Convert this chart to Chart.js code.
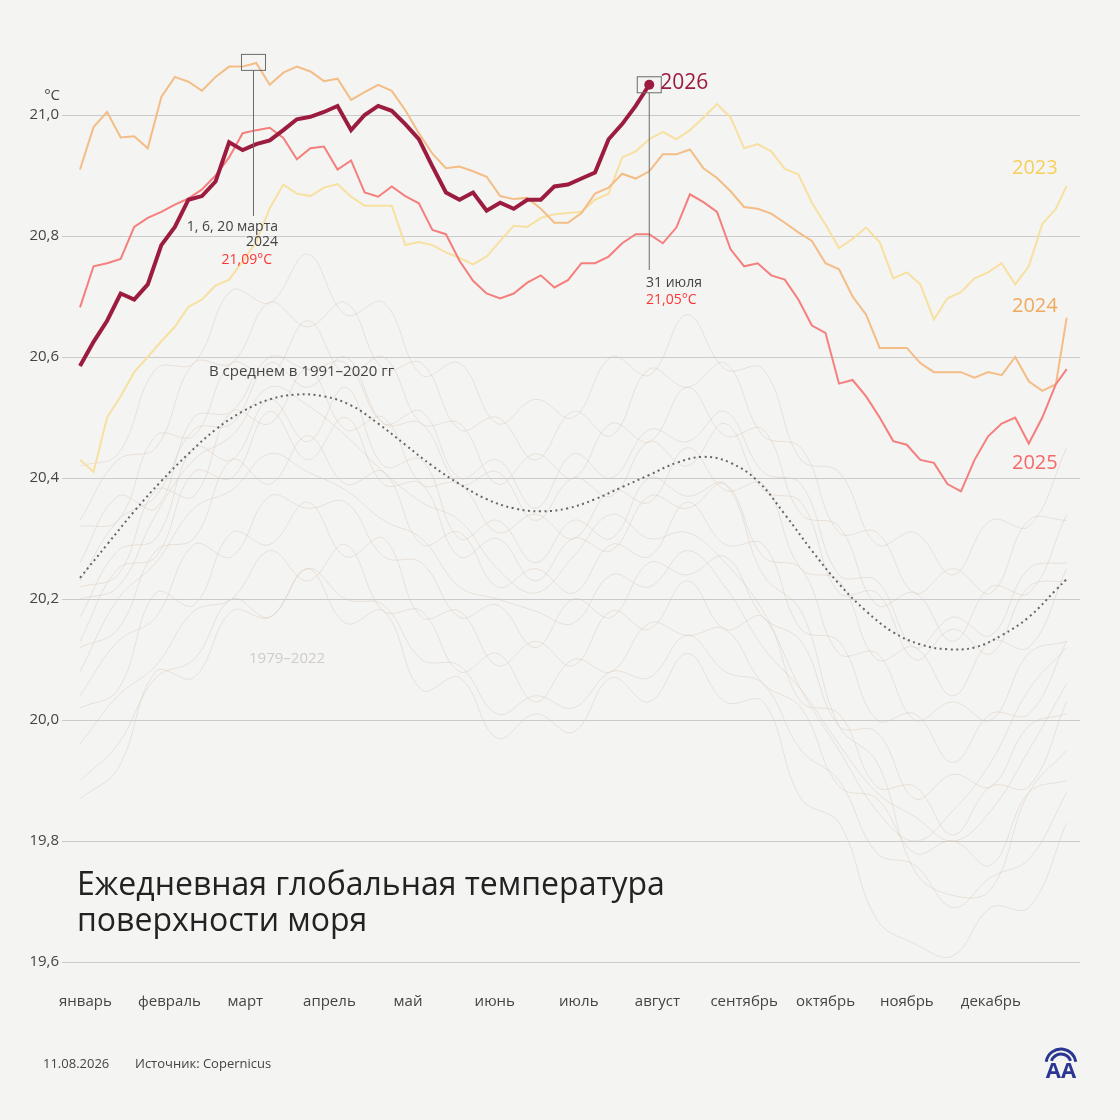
<!DOCTYPE html>
<html lang="ru">
<head>
<meta charset="utf-8">
<title>Ежедневная глобальная температура поверхности моря</title>
<script src="https://cdn.jsdelivr.net/npm/chart.js@4.4.1/dist/chart.umd.min.js"></script>
<style>
  html, body { margin: 0; padding: 0; background: #f4f4f3; }
  #wrap { position: relative; width: 1120px; height: 1120px; }
  canvas { display: block; }
</style>
</head>
<body>
<div id="wrap"><canvas id="sst" width="1120" height="1120"></canvas></div>
<script>
// day of year (0 = 1 January), sampled every 5 days
const DAYS = [0,5,10,15,20,25,30,35,40,45,50,55,60,65,70,75,80,85,90,95,
  100,105,110,115,120,125,130,135,140,145,150,155,160,165,170,175,180,185,190,195,
  200,205,210,215,220,225,230,235,240,245,250,255,260,265,270,275,280,285,290,295,
  300,305,310,315,320,325,330,335,340,345,350,355,360,364]

const SST_2023 = [20.43,20.41,20.50,20.535,20.575,20.60,20.626,20.65,20.683,20.695,
  20.718,20.728,20.758,20.79,20.846,20.885,20.87,20.866,20.88,20.886,
  20.865,20.85,20.85,20.85,20.785,20.79,20.785,20.773,20.764,20.753,
  20.766,20.792,20.817,20.815,20.83,20.836,20.838,20.84,20.86,20.87,
  20.93,20.94,20.96,20.972,20.96,20.975,20.996,21.018,20.996,20.945,
  20.952,20.94,20.911,20.902,20.855,20.819,20.78,20.795,20.814,20.79,
  20.73,20.74,20.72,20.662,20.697,20.707,20.73,20.74,20.755,20.72,
  20.75,20.82,20.845,20.883]

const SST_2024 = [20.91,20.98,21.005,20.963,20.965,20.945,21.03,21.063,21.055,21.04,
  21.063,21.08,21.08,21.086,21.05,21.07,21.08,21.072,21.056,21.06,
  21.025,21.038,21.05,21.04,21.008,20.97,20.936,20.912,20.915,20.907,
  20.898,20.866,20.861,20.863,20.845,20.822,20.822,20.838,20.87,20.88,
  20.903,20.895,20.907,20.935,20.935,20.943,20.912,20.896,20.874,20.848,
  20.845,20.837,20.822,20.806,20.792,20.755,20.745,20.70,20.67,20.615,
  20.615,20.615,20.59,20.575,20.575,20.575,20.566,20.575,20.57,20.60,
  20.56,20.544,20.555,20.665]

const SST_2025 = [20.682,20.75,20.755,20.762,20.815,20.83,20.84,20.852,20.862,20.877,
  20.90,20.93,20.97,20.975,20.979,20.962,20.927,20.945,20.948,20.91,
  20.925,20.872,20.865,20.882,20.866,20.854,20.81,20.803,20.759,20.726,
  20.705,20.697,20.705,20.723,20.735,20.715,20.727,20.755,20.755,20.766,
  20.788,20.803,20.803,20.788,20.814,20.869,20.856,20.84,20.778,20.75,
  20.755,20.735,20.728,20.695,20.652,20.64,20.556,20.562,20.535,20.50,
  20.461,20.455,20.43,20.425,20.39,20.378,20.43,20.469,20.49,20.50,
  20.457,20.50,20.555,20.58]

// 2026 runs up to 31 July
const SST_2026 = [20.585,20.625,20.66,20.705,20.695,20.72,20.785,20.815,20.86,20.866,
  20.89,20.955,20.942,20.952,20.958,20.975,20.993,20.997,21.005,21.015,
  20.975,21.0,21.015,21.007,20.985,20.96,20.915,20.872,20.86,20.872,
  20.842,20.855,20.845,20.86,20.86,20.882,20.885,20.895,20.905,20.96,
  20.985,21.015,21.05]

// 1991-2020 average
const AVG_DAYS = [0,10,20,30,40,50,60,70,80,90,100,110,120,130,140,150,160,170,180,190,
  200,210,220,230,240,250,260,270,280,290,300,310,320,330,340,350,360,364]
const SST_AVG = [20.235,20.29,20.345,20.395,20.44,20.48,20.51,20.53,20.538,20.535,
  20.52,20.49,20.455,20.42,20.39,20.365,20.35,20.345,20.35,20.365,
  20.385,20.405,20.425,20.435,20.425,20.395,20.34,20.28,20.225,20.18,
  20.145,20.125,20.117,20.12,20.14,20.17,20.215,20.233]

// faint 1979-2022 years, sampled every 14 days
const BG_DAYS = [0,14,28,42,56,70,84,98,112,126,140,154,168,182,196,210,224,238,252,266,280,294,308,322,336,350,364]
const BG_YEARS = [
  [19.90,19.96,20.07,20.10,20.20,20.17,20.25,20.20,20.19,20.10,20.09,20.01,20.04,20.02,20.08,20.07,20.14,20.08,20.06,19.95,19.90,19.78,19.76,19.69,19.74,19.77,19.88],
  [19.96,20.04,20.09,20.18,20.20,20.28,20.23,20.29,20.18,20.18,20.08,20.11,20.03,20.10,20.08,20.16,20.14,20.15,20.06,20.02,19.89,19.87,19.78,19.80,19.76,19.88,19.90],
  [20.04,20.13,20.17,20.29,20.27,20.37,20.35,20.36,20.27,20.26,20.17,20.19,20.12,20.20,20.17,20.26,20.24,20.27,20.17,20.13,19.99,19.98,19.87,19.91,19.89,19.99,20.01],
  [20.12,20.15,20.28,20.30,20.43,20.39,20.47,20.39,20.41,20.29,20.31,20.22,20.25,20.21,20.29,20.27,20.36,20.29,20.29,20.15,20.13,20.00,20.01,19.93,20.01,20.01,20.13],
  [20.13,20.25,20.27,20.41,20.40,20.51,20.43,20.50,20.39,20.39,20.27,20.30,20.23,20.30,20.28,20.37,20.35,20.39,20.27,20.25,20.11,20.11,20.00,20.03,20.00,20.11,20.13],
  [20.22,20.24,20.38,20.37,20.51,20.49,20.58,20.48,20.50,20.39,20.39,20.31,20.34,20.30,20.38,20.36,20.45,20.38,20.39,20.25,20.23,20.10,20.12,20.04,20.13,20.12,20.25],
  [20.23,20.33,20.37,20.48,20.49,20.59,20.55,20.60,20.49,20.49,20.39,20.41,20.33,20.40,20.37,20.46,20.42,20.49,20.38,20.36,20.21,20.21,20.10,20.15,20.11,20.22,20.23],
  [20.32,20.33,20.47,20.47,20.59,20.57,20.66,20.57,20.60,20.49,20.49,20.39,20.44,20.40,20.49,20.46,20.55,20.47,20.48,20.34,20.32,20.19,20.21,20.13,20.22,20.21,20.34],
  [20.33,20.43,20.45,20.59,20.59,20.69,20.65,20.69,20.58,20.59,20.48,20.50,20.43,20.51,20.47,20.58,20.55,20.59,20.47,20.45,20.31,20.31,20.21,20.25,20.21,20.33,20.33],
  [20.42,20.44,20.58,20.59,20.71,20.69,20.77,20.67,20.69,20.57,20.59,20.49,20.53,20.50,20.60,20.57,20.67,20.58,20.58,20.43,20.41,20.29,20.31,20.24,20.33,20.32,20.45],
  [20.17,20.28,20.30,20.45,20.43,20.53,20.46,20.55,20.42,20.43,20.30,20.33,20.26,20.33,20.30,20.40,20.37,20.39,20.24,20.18,19.99,19.93,19.75,19.71,19.72,19.88,19.95],
  [19.87,19.92,20.08,20.07,20.18,20.17,20.25,20.16,20.18,20.05,20.07,19.97,20.01,19.98,20.07,20.03,20.11,20.03,20.03,19.87,19.83,19.67,19.63,19.61,19.69,19.69,19.83],
  [20.26,20.37,20.35,20.50,20.51,20.60,20.58,20.59,20.49,20.51,20.40,20.43,20.35,20.44,20.40,20.48,20.46,20.51,20.41,20.39,20.24,20.23,20.12,20.17,20.14,20.25,20.26],
  [20.02,20.05,20.21,20.19,20.31,20.29,20.36,20.27,20.30,20.17,20.18,20.09,20.13,20.09,20.18,20.15,20.23,20.15,20.17,20.03,20.01,19.89,19.89,19.81,19.89,19.89,20.03],
  [20.20,20.22,20.34,20.43,20.47,20.55,20.52,20.47,20.41,20.36,20.33,20.25,20.21,20.27,20.34,20.30,20.31,20.26,20.18,20.05,19.95,19.85,19.80,19.85,19.93,20.05,20.12],
  [20.08,20.20,20.26,20.35,20.38,20.44,20.41,20.38,20.33,20.30,20.22,20.20,20.18,20.16,20.24,20.22,20.28,20.22,20.12,20.05,19.96,19.88,19.84,19.80,19.85,19.95,20.06]
]

const Y_TICKS = [19.6,19.8,20.0,20.2,20.4,20.6,20.8,21.0]
const MONTH_TICKS = [2,33,61,92,121,153,184,213,245,275,305,336]
const MONTHS = ['январь','февраль','март','апрель','май','июнь','июль','август','сентябрь','октябрь','ноябрь','декабрь']

const FONT = '"Open Sans", "Noto Sans", sans-serif'
const toPoints = (days, vals) => vals.map((v, i) => ({x: days[i], y: v}))

const datasets = []
datasets.push({
  label: '2026', data: toPoints(DAYS, SST_2026), order: 0,
  borderColor: '#9b1c3f', borderWidth: 4, tension: 0,
  pointRadius: c => c.dataIndex === SST_2026.length - 1 ? 5 : 0,
  pointBackgroundColor: '#9b1c3f', pointBorderWidth: 0
})
datasets.push({label: '2025', data: toPoints(DAYS, SST_2025), order: 1, borderColor: '#f47f7d', borderWidth: 2, tension: 0, pointRadius: 0})
datasets.push({label: '2024', data: toPoints(DAYS, SST_2024), order: 2, borderColor: '#f4bd86', borderWidth: 2, tension: 0, pointRadius: 0})
datasets.push({label: '2023', data: toPoints(DAYS, SST_2023), order: 3, borderColor: '#f8e0a0', borderWidth: 2, tension: 0, pointRadius: 0})
datasets.push({
  label: 'В среднем в 1991–2020 гг', data: toPoints(AVG_DAYS, SST_AVG), order: 4,
  borderColor: '#666', borderWidth: 2, borderDash: [2, 3.5], tension: 0.4, pointRadius: 0
})
BG_YEARS.forEach((vals, i) => {
  datasets.push({label: 'bg' + i, data: toPoints(BG_DAYS, vals), order: 10,
    borderColor: 'rgba(215,198,178,0.42)', borderWidth: 1, tension: 0.4, pointRadius: 0})
})

const text = (ctx, s, x, y, size, color, align) => {
  ctx.font = size + 'px ' + FONT
  ctx.fillStyle = color
  ctx.textAlign = align || 'left'
  ctx.textBaseline = 'middle'
  ctx.fillText(s, x, y)
}

const notes = {
  id: 'notes',
  beforeDraw(chart) {
    const ctx = chart.ctx
    ctx.save()
    ctx.fillStyle = '#f4f4f3'
    ctx.fillRect(0, 0, chart.width, chart.height)
    ctx.restore()
  },
  afterDraw(chart) {
    const {ctx, scales: {x, y}} = chart
    ctx.save()
    ctx.strokeStyle = '#6b6b6b'
    ctx.lineWidth = 1

    // 2024 record box
    const p1x = x.getPixelForValue(64), p1y = y.getPixelForValue(21.087)
    ctx.strokeRect(p1x - 12, p1y - 8, 24, 16)
    ctx.beginPath(); ctx.moveTo(p1x, p1y + 8); ctx.lineTo(p1x, 216); ctx.stroke()

    // 2026 latest box
    const last = SST_2026.length - 1
    const p2x = x.getPixelForValue(DAYS[last]), p2y = y.getPixelForValue(SST_2026[last])
    ctx.strokeRect(p2x - 12, p2y - 8, 24, 16)
    ctx.beginPath(); ctx.moveTo(p2x, p2y + 8); ctx.lineTo(p2x, 270); ctx.stroke()

    text(ctx, '1, 6, 20 марта', 278, 227, 14, '#444', 'right')
    text(ctx, '2024', 278, 242, 14, '#444', 'right')
    text(ctx, '21,09°C', 272, 260, 14, '#ff3535', 'right')
    text(ctx, '31 июля', 646, 283, 14, '#444')
    text(ctx, '21,05°C', 646, 300, 14, '#ff3535')

    text(ctx, '2026', p2x + 11, 83, 21, '#9b1c3f')
    text(ctx, '2023', 1012, 168, 20, '#f6cf5c')
    text(ctx, '2024', 1012, 306, 20, '#f1a95b')
    text(ctx, '2025', 1012, 463, 20, '#f46a6a')

    text(ctx, 'В среднем в 1991–2020 гг', 209, 372, 15, '#444')
    text(ctx, '1979–2022', 249, 659, 15, '#d0ccc8')
    text(ctx, '°C', 60, 96, 15, '#444', 'right')

    // title
    ctx.font = '32px ' + FONT
    ctx.fillStyle = '#222'
    ctx.textAlign = 'left'
    ctx.textBaseline = 'alphabetic'
    ctx.fillText('Ежедневная глобальная температура', 77, 895)
    ctx.fillText('поверхности моря', 77, 931)

    // footer
    text(ctx, '11.08.2026', 43, 1064, 13, '#444')
    text(ctx, 'Источник: Copernicus', 135, 1064, 13, '#444')

    // AA logo
    ctx.strokeStyle = '#2b3592'
    ctx.lineWidth = 3
    ctx.beginPath(); ctx.arc(1061, 1064, 15, Math.PI * 1.05, Math.PI * 1.95); ctx.stroke()
    ctx.beginPath(); ctx.arc(1061, 1064, 10, Math.PI * 1.1, Math.PI * 1.9); ctx.stroke()
    ctx.font = 'bold 22px ' + FONT
    ctx.fillStyle = '#2b3592'
    ctx.textAlign = 'center'
    ctx.textBaseline = 'alphabetic'
    ctx.fillText('AA', 1061, 1078)
    ctx.restore()
  }
}

function draw() {
  new Chart(document.getElementById('sst'), {
    type: 'line',
    data: {datasets},
    options: {
      responsive: false,
      animation: false,
      devicePixelRatio: 1,
      layout: {padding: {left: 0, right: 40, top: 42, bottom: 0}},
      plugins: {legend: {display: false}, tooltip: {enabled: false}},
      scales: {
        x: {
          type: 'linear', min: -6.64, max: 368.9,
          grid: {display: false}, border: {display: false},
          afterBuildTicks: axis => { axis.ticks = MONTH_TICKS.map(v => ({value: v})) },
          afterFit: scale => { scale.height = 158 },
          ticks: {
            autoSkip: false, maxRotation: 0, padding: 23,
            color: '#444', font: {family: FONT, size: 15},
            callback: (v, i) => MONTHS[i]
          }
        },
        y: {
          min: 19.6, max: 21.1207,
          border: {display: false},
          grid: {color: '#cbcbcb', lineWidth: 1, drawTicks: false},
          afterBuildTicks: axis => { axis.ticks = Y_TICKS.map(v => ({value: v})) },
          afterFit: scale => { scale.width = 62 },
          ticks: {
            padding: 3, color: '#444', font: {family: FONT, size: 15},
            callback: v => v.toFixed(1).replace('.', ',')
          }
        }
      }
    },
    plugins: [notes]
  })
}

if (document.fonts && document.fonts.load) {
  Promise.all([document.fonts.load('15px "Open Sans"'), document.fonts.load('bold 22px "Open Sans"')]).then(draw, draw)
} else {
  draw()
}
</script>
</body>
</html>
